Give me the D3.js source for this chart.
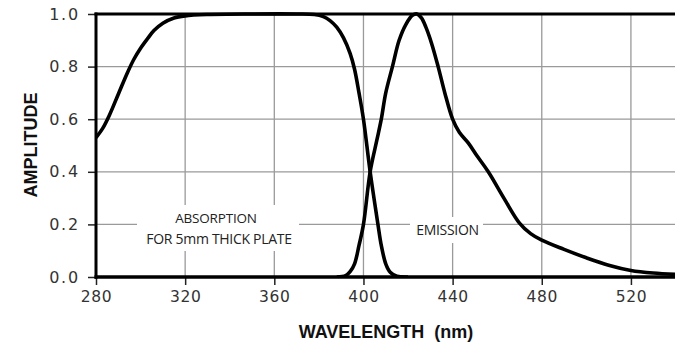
<!DOCTYPE html>
<html>
<head>
<meta charset="utf-8">
<script src="https://cdn.jsdelivr.net/npm/d3@7"></script>
<style>
  html, body { margin: 0; padding: 0; background: #fff; }
  svg { display: block; }
</style>
</head>
<body>
<svg id="chart" width="675" height="345"></svg>
<script>
// ---- data ----
const xTicks = [280, 320, 360, 400, 440, 480, 520];
const yTicks = [0, 0.2, 0.4, 0.6, 0.8, 1.0];

const absorptionWavelength = [280, 283, 286, 290, 294, 297, 300, 303, 306, 310, 315, 320, 330, 350, 370, 378, 382, 385, 388, 391, 394, 396, 398, 400, 403, 406.5, 408, 410, 412, 415, 420];
const absorptionAmplitude  = [0.53, 0.565, 0.615, 0.695, 0.775, 0.828, 0.87, 0.905, 0.937, 0.965, 0.985, 0.993, 0.998, 1.0, 1.0, 0.998, 0.99, 0.975, 0.95, 0.91, 0.85, 0.79, 0.70, 0.60, 0.40, 0.20, 0.12, 0.05, 0.018, 0.003, 0.0];

const emissionWavelength = [388, 392, 394, 396, 398, 400, 403, 406, 408, 410, 413, 416, 419, 422, 424, 426, 428, 430.5, 433.5, 436.5, 440, 443, 447, 451, 456, 463, 470, 475, 480, 490, 500, 510, 520, 530, 540];
const emissionAmplitude  = [0.0, 0.005, 0.02, 0.05, 0.12, 0.20, 0.40, 0.52, 0.60, 0.70, 0.80, 0.90, 0.96, 0.995, 1.0, 0.985, 0.95, 0.89, 0.80, 0.70, 0.60, 0.55, 0.51, 0.46, 0.40, 0.30, 0.205, 0.165, 0.14, 0.105, 0.073, 0.045, 0.025, 0.015, 0.01];

const xTitle = "WAVELENGTH\u00a0\u00a0(nm)";
const yTitle = "AMPLITUDE";

// ---- layout ----
const svg = d3.select("#chart");
const pL = 96, pR = 675.5, pT = 14, pB = 277;

const x = d3.scaleLinear().domain([280, 540]).range([pL, pR]);
const y = d3.scaleLinear().domain([0, 1]).range([pB, pT]);

// gridlines
const grid = svg.append("g").attr("stroke", "#9a9a9a").attr("stroke-width", 1.3);
grid.selectAll("line.v").data(xTicks.slice(1)).join("line")
  .attr("x1", d => x(d)).attr("x2", d => x(d))
  .attr("y1", pT).attr("y2", pB);
grid.selectAll("line.h").data(yTicks.slice(1, -1)).join("line")
  .attr("x1", pL).attr("x2", pR)
  .attr("y1", d => y(d)).attr("y2", d => y(d));

// label boxes (white, hiding gridlines)
svg.append("rect").attr("x", 137).attr("y", 205).attr("width", 162).attr("height", 46).attr("fill", "#fff");
svg.append("rect").attr("x", 410).attr("y", 217).attr("width", 73).attr("height", 26).attr("fill", "#fff");

const labelFont = "'Open Sans', 'Liberation Sans', sans-serif";
svg.append("text").attr("x", 216).attr("y", 223).attr("text-anchor", "middle")
  .attr("font-family", labelFont).attr("font-size", 13.5).attr("fill", "#222")
  .attr("letter-spacing", -0.2)
  .text("ABSORPTION");
svg.append("text").attr("x", 219).attr("y", 244).attr("text-anchor", "middle")
  .attr("font-family", labelFont).attr("font-size", 14).attr("fill", "#222")
  .attr("letter-spacing", -0.3)
  .text("FOR 5mm THICK PLATE");
svg.append("text").attr("x", 447.5).attr("y", 235).attr("text-anchor", "middle")
  .attr("font-family", labelFont).attr("font-size", 14).attr("fill", "#222")
  .attr("letter-spacing", -0.3)
  .text("EMISSION");

// curves
const line = d3.line().x(d => x(d[0])).y(d => y(d[1])).curve(d3.curveCatmullRom.alpha(0.5));
const absData = absorptionWavelength.map((w, i) => [w, absorptionAmplitude[i]]);
const emiData = emissionWavelength.map((w, i) => [w, emissionAmplitude[i]]);

svg.append("defs").append("clipPath").attr("id", "clip")
  .append("rect").attr("x", pL).attr("y", pT - 4).attr("width", pR - pL).attr("height", pB - pT + 4);

const curves = svg.append("g").attr("clip-path", "url(#clip)");
curves.append("path").datum(absData).attr("d", line)
  .attr("fill", "none").attr("stroke", "#000").attr("stroke-width", 3.6).attr("stroke-linejoin", "round");
curves.append("path").datum(emiData).attr("d", line)
  .attr("fill", "none").attr("stroke", "#000").attr("stroke-width", 3.6).attr("stroke-linejoin", "round");

// axes
const tickFont = "'DejaVu Sans', Verdana, sans-serif";
const xAxis = svg.append("g").attr("transform", `translate(0,${pB})`)
  .call(d3.axisBottom(x).tickValues(xTicks).tickSize(8).tickPadding(6).tickFormat(d3.format("d")));
xAxis.select(".domain").remove();
xAxis.selectAll(".tick line").attr("stroke", "#222").attr("stroke-width", 1.5);
xAxis.selectAll(".tick text").attr("font-family", tickFont).attr("font-size", 15.5)
  .attr("fill", "#333").attr("letter-spacing", 0.6);

const yAxis = svg.append("g").attr("transform", `translate(${pL},0)`)
  .call(d3.axisLeft(y).tickValues(yTicks).tickSize(8).tickPadding(8).tickFormat(d3.format(".1f")));
yAxis.select(".domain").remove();
yAxis.selectAll(".tick line").attr("stroke", "#222").attr("stroke-width", 1.5);
yAxis.selectAll(".tick text").attr("font-family", tickFont).attr("font-size", 16)
  .attr("fill", "#333").attr("letter-spacing", 1.8);

// frame lines
svg.append("line").attr("x1", pL).attr("x2", pL).attr("y1", pT - 1.5).attr("y2", pB + 1.8)
  .attr("stroke", "#000").attr("stroke-width", 3);
svg.append("line").attr("x1", pL - 1.5).attr("x2", pR).attr("y1", pB).attr("y2", pB)
  .attr("stroke", "#000").attr("stroke-width", 3.6);
svg.append("line").attr("x1", pL - 1.5).attr("x2", pR).attr("y1", pT).attr("y2", pT)
  .attr("stroke", "#000").attr("stroke-width", 3);

// titles
svg.append("text").attr("x", 386).attr("y", 338).attr("text-anchor", "middle")
  .attr("font-family", "'Liberation Sans', Arial, sans-serif").attr("font-weight", "bold")
  .attr("font-size", 18).attr("fill", "#111").attr("letter-spacing", 0)
  .text(xTitle);
svg.append("text").attr("transform", "translate(37,145) rotate(-90)").attr("text-anchor", "middle")
  .attr("font-family", "'Liberation Sans', Arial, sans-serif").attr("font-weight", "bold")
  .attr("font-size", 18).attr("fill", "#111")
  .text(yTitle);
</script>
</body>
</html>
